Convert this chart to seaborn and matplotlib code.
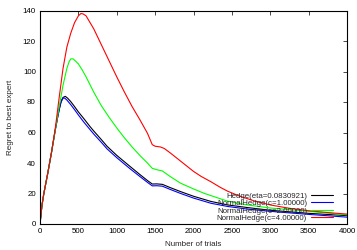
import matplotlib
matplotlib.use("Agg")
from matplotlib import pyplot as plt
import pandas as pd
import seaborn as sns

# series (trials, regret)
hedge_x = [0, 25, 50, 100, 150, 200, 230, 250, 280, 300, 330, 360, 400, 450, 500, 568, 650,
           700, 800, 873, 1000, 1100, 1179, 1300, 1400, 1463, 1520, 1594, 1700, 1834, 2000,
           2227, 2445, 2700, 3000, 3500, 4000]
hedge_y = [0, 12, 20, 33, 47, 62, 70, 75, 81, 83, 83.7, 82.5, 80.3, 77, 73.5, 69.3, 64,
           61, 55.3, 51, 45, 40.8, 37.5, 32.5, 28.5, 26.2, 26.3, 26, 23.8, 21.2, 18.2,
           14.8, 12.5, 10.8, 9, 7, 5.5]

nh1_x = [0, 25, 50, 100, 150, 200, 230, 250, 270, 300, 320, 350, 400, 450, 500, 568, 650,
         700, 800, 873, 1000, 1100, 1179, 1300, 1400, 1463, 1520, 1594, 1700, 1834, 2000,
         2227, 2445, 2700, 3000, 3500, 4000]
nh1_y = [0, 12, 20, 33, 47, 62, 70, 75, 79.5, 82.5, 82.6, 81.3, 78.3, 75, 71.5, 67, 62,
         59, 53.5, 49.3, 43.5, 39.3, 36, 31.2, 27.3, 25, 25.1, 24.8, 22.6, 20, 17,
         13.6, 11.5, 9.8, 8.3, 6.3, 4.5]

nh2_x = [0, 25, 50, 100, 150, 200, 250, 300, 350, 380, 402, 430, 460, 500, 550, 600, 700,
         800, 900, 1000, 1100, 1200, 1300, 1400, 1463, 1530, 1594, 1700, 1834, 2000, 2140,
         2358, 2445, 2700, 3000, 3500, 4000]
nh2_y = [0, 12, 20, 33, 47, 62, 77, 91, 102, 106.5, 108.3, 108.3, 107, 105, 101, 96.5, 86.5,
         77.5, 70, 63, 56.5, 50.5, 45, 40, 36.5, 35.5, 34.8, 31, 26.7, 23, 20.1,
         16.4, 15, 12.5, 10.5, 8.3, 6]

nh4_x = [0, 25, 50, 100, 150, 200, 250, 300, 350, 400, 450, 500, 533, 560, 600, 700, 800,
         900, 1000, 1100, 1200, 1300, 1400, 1463, 1500, 1570, 1620, 1700, 1800, 1900, 2000,
         2100, 2227, 2350, 2445, 2600, 2800, 3000, 3250, 3500, 3750, 4000]
nh4_y = [0, 12, 20, 33, 47, 63, 83, 102, 116, 125, 132, 136.5, 138, 137.8, 136.5, 128, 117.5,
         107, 96.5, 86.5, 77, 68.5, 59.5, 52, 51, 50.5, 49.5, 46.5, 42.5, 38.5, 34.5,
         31.2, 27.7, 24, 21.5, 18.3, 15, 12.5, 10.3, 8.7, 7.5, 6.5]

labels = ["Hedge(eta=0.0830921)", "NormalHedge(c=1.00000)",
          "NormalHedge(c=2.00000)", "NormalHedge(c=4.00000)"]
colors = ["#000000", "#0000ff", "#00ff00", "#ff0000"]

frames = []
for lab, xs, ys in zip(labels, [hedge_x, nh1_x, nh2_x, nh4_x], [hedge_y, nh1_y, nh2_y, nh4_y]):
    frames.append(pd.DataFrame({"trials": xs, "regret": ys, "algo": lab}))
df = pd.concat(frames, ignore_index=True)

sns.set_style("white")
plt.rcParams["font.family"] = ["Liberation Sans", "DejaVu Sans"]

fig = plt.figure(figsize=(3.57, 2.5), dpi=100)
ax = fig.add_axes([40 / 357, 26 / 250, 307 / 357, 213.5 / 250])

sns.lineplot(data=df, x="trials", y="regret", hue="algo", hue_order=labels,
             palette=colors, estimator=None, sort=False, linewidth=0.8,
             legend=False, ax=ax)

ax.set_xlim(0, 4000)
ax.set_ylim(0, 140)
ax.set_xticks(range(0, 4001, 500))
ax.set_yticks(range(0, 141, 20))
ax.tick_params(direction="in", length=3, width=0.5, labelsize=5.7,
               top=True, right=True, pad=3, colors="black")
for sp in ax.spines.values():
    sp.set_visible(True)
    sp.set_color("black")
    sp.set_linewidth(0.8)

ax.set_xlabel("Number of trials", fontsize=5.8, labelpad=4)
ax.set_ylabel("Regret to best expert", fontsize=5.8, labelpad=6)

ax.legend(ax.get_lines(), labels, loc="lower right", bbox_to_anchor=(0.955, 0.01),
          frameon=False, markerfirst=False, fontsize=5.7, handlelength=2.8,
          handletextpad=0.5, labelspacing=-0.03, borderpad=0, borderaxespad=0)

fig.savefig("out.png", dpi=100)
